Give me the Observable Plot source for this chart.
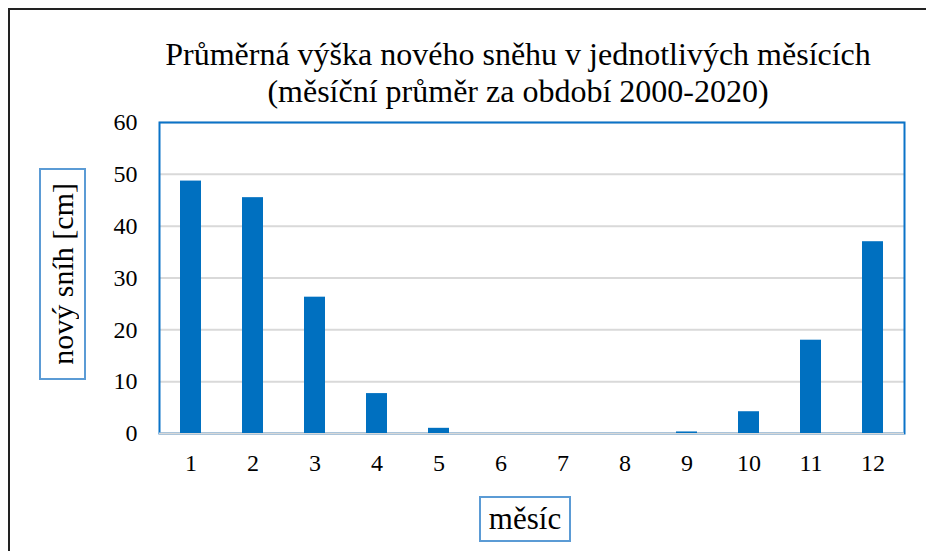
<!DOCTYPE html>
<html>
<head>
<meta charset="utf-8">
<script src="https://cdn.jsdelivr.net/npm/d3@7"></script>
<script src="https://cdn.jsdelivr.net/npm/@observablehq/plot@0.6"></script>
<style>
  html, body { margin: 0; padding: 0; background: #fff; }
  #wrap { position: relative; width: 926px; height: 551px; overflow: hidden; font-family: "Liberation Serif", "Times New Roman", serif; color: #000; }
  #border { position: absolute; left: 8px; top: 8px; width: 940px; height: 600px; border-left: 2px solid #222; border-top: 2px solid #222; }
  #title { position: absolute; left: 118px; width: 800px; top: 36px; text-align: center; font-size: 32px; line-height: 37px; white-space: nowrap; }
  #ylab { position: absolute; left: 39px; top: 168px; width: 43px; height: 208px; border: 2px solid #5b9bd5; display: flex; align-items: center; justify-content: center; }
  #ylab span { writing-mode: vertical-rl; transform: rotate(180deg); font-size: 30px; white-space: nowrap; }
  #xlab { position: absolute; left: 479px; top: 496px; width: 88px; height: 42px; border: 2px solid #5b9bd5; display: flex; align-items: center; justify-content: center; }
  #xlab span { font-size: 31px; display: inline-block; white-space: nowrap; }
  #chart { position: absolute; left: 0; top: 0; }
</style>
</head>
<body>
<div id="wrap">
  <div id="chart"></div>
  <div id="border"></div>
  <div id="title">Průměrná výška nového sněhu v jednotlivých měsících<br>(měsíční průměr za období 2000-2020)</div>
  <div id="ylab"><span>nový sníh [cm]</span></div>
  <div id="xlab"><span>měsíc</span></div>
</div>
<script>
const months = [1, 2, 3, 4, 5, 6, 7, 8, 9, 10, 11, 12];
const snow = [48.7, 45.5, 26.3, 7.7, 1.0, 0, 0, 0, 0.3, 4.2, 18.0, 37.0];
const yTicks = [0, 10, 20, 30, 40, 50, 60];

const data = months.map((m, i) => ({month: m, value: snow[i]}));

const chart = Plot.plot({
  width: 926,
  height: 551,
  marginLeft: 159,
  marginRight: 22,
  marginTop: 122,
  marginBottom: 118,
  style: {fontFamily: "Liberation Serif, Times New Roman, serif", fontSize: "24px", color: "#000", background: "transparent"},
  x: {domain: months, paddingInner: 0.655, paddingOuter: 0.3275, label: null, tickSize: 0, tickPadding: 20},
  y: {domain: [0, 60], ticks: yTicks, label: null, tickSize: 0, tickPadding: 22},
  marks: [
    Plot.gridY(yTicks, {stroke: "#d9d9d9", strokeOpacity: 1, strokeWidth: 2}),
    Plot.frame({stroke: "#0a73c8", strokeWidth: 2}),
    Plot.ruleY([0], {stroke: "#d9d9d9", strokeWidth: 2}),
    Plot.barY(data, {x: "month", y: "value", fill: "#0070c0"}),
    Plot.axisX({tickSize: 0, tickPadding: 20, fontSize: 24}),
    Plot.axisY(yTicks, {tickSize: 0, tickPadding: 22, fontSize: 24})
  ]
});
document.getElementById("chart").appendChild(chart);
</script>
</body>
</html>
